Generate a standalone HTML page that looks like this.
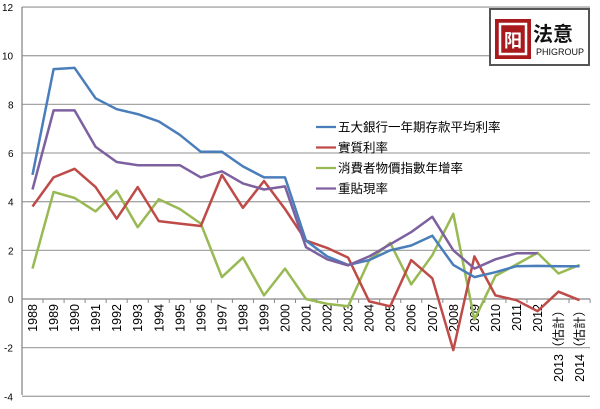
<!DOCTYPE html>
<html><head><meta charset="utf-8"><style>
body{margin:0;background:#fff;width:600px;height:404px;overflow:hidden}
svg text{font-family:"Liberation Sans","Noto Sans CJK TC",sans-serif}
</style></head><body>
<svg id="s" width="600" height="404" xmlns="http://www.w3.org/2000/svg"></svg>
<script>
const s=document.getElementById('s');
const X0=22,CW=21.04,Y0=299,U=24.33;
const x=i=>X0+CW*(i+0.5), y=v=>Y0-v*U;
let h='';
for(let v=-4;v<=12;v+=2){const yy=y(v);
 if(v!==0)h+=`<line x1="${X0}" x2="590" y1="${yy}" y2="${yy}" stroke="#a6a6a6" stroke-width="1.3"/>`;
 h+=`<text x="${v<0?4:(v>=10?2:8)}" y="${yy+4}" font-size="10" fill="#000">${v}</text>`;}
h+=`<line x1="${X0}" x2="${X0}" y1="7" y2="395" stroke="#888" stroke-width="1.3"/>`;
h+=`<line x1="${X0}" x2="590" y1="${Y0}" y2="${Y0}" stroke="#888" stroke-width="1.3"/>`;
for(let i=0;i<=27;i++){const xx=X0+CW*i;h+=`<line x1="${xx}" x2="${xx}" y1="${Y0}" y2="${Y0+4}" stroke="#888"/>`;}
const yrs=[];for(let i=1988;i<=2014;i++)yrs.push(i);
yrs.forEach((yr,i)=>{const lab=yr>=2013?yr+'（估計）':''+yr;
 h+=`<text transform="translate(${x(i)+4.5},${Y0+5}) rotate(-90)" text-anchor="end" font-size="12.5" fill="#000">${lab}</text>`;});
const S=[
 ['#4a7ebb',[5.1,9.45,9.5,8.25,7.8,7.6,7.3,6.75,6.05,6.05,5.45,5.0,5.0,2.4,1.75,1.4,1.6,2.0,2.2,2.6,1.4,0.9,1.1,1.35,1.36,1.35,1.35]],
 ['#be4b48',[3.8,5.0,5.35,4.6,3.3,4.6,3.2,3.1,3.0,5.1,3.75,4.85,3.7,2.4,2.1,1.7,-0.1,-0.3,1.6,0.85,-2.1,1.75,0.15,-0.05,-0.5,0.3,-0.05]],
 ['#98b954',[1.25,4.4,4.15,3.6,4.45,2.95,4.1,3.7,3.1,0.9,1.7,0.15,1.25,0,-0.2,-0.3,1.6,2.3,0.6,1.8,3.5,-0.85,0.95,1.42,1.9,1.05,1.4]],
 ['#7d60a0',[4.5,7.75,7.75,6.25,5.63,5.5,5.5,5.5,5.0,5.25,4.75,4.5,4.63,2.13,1.63,1.38,1.75,2.25,2.75,3.38,2.0,1.25,1.63,1.88,1.88]]];
const order=[2,1,0,3];
order.forEach(k=>{const [c,d]=S[k];h+=`<polyline fill="none" stroke="${c}" stroke-width="2.5" stroke-linejoin="round" points="${d.map((v,i)=>x(i).toFixed(1)+','+y(v).toFixed(1)).join(' ')}"/>`;});
const L=[['#4a7ebb','五大銀行一年期存款平均利率'],['#be4b48','實質利率'],['#98b954','消費者物價指數年增率'],['#7d60a0','重貼現率']];
L.forEach((l,i)=>{const yy=127+i*20.5;h+=`<line x1="316" x2="336" y1="${yy}" y2="${yy}" stroke="${l[0]}" stroke-width="2.2"/><text x="338" y="${yy+4.5}" font-size="12.5" fill="#000">${l[1]}</text>`;});
h+=`<rect x="490" y="9" width="99" height="56" fill="#fff" stroke="#555" stroke-width="2"/>`;
h+=`<rect x="495" y="19" width="36" height="40" fill="#a8191d"/><rect x="500" y="24" width="26" height="30" fill="none" stroke="#fff" stroke-width="2.5"/><text x="513" y="47" font-size="18" fill="#fff" text-anchor="middle" font-weight="bold">阳</text>`;
h+=`<text x="533" y="41" font-size="20" font-weight="bold" fill="#111">法意</text><text x="536" y="55" font-size="9" fill="#111">PHIGROUP</text>`;
s.innerHTML=h;
</script>
</body></html>
